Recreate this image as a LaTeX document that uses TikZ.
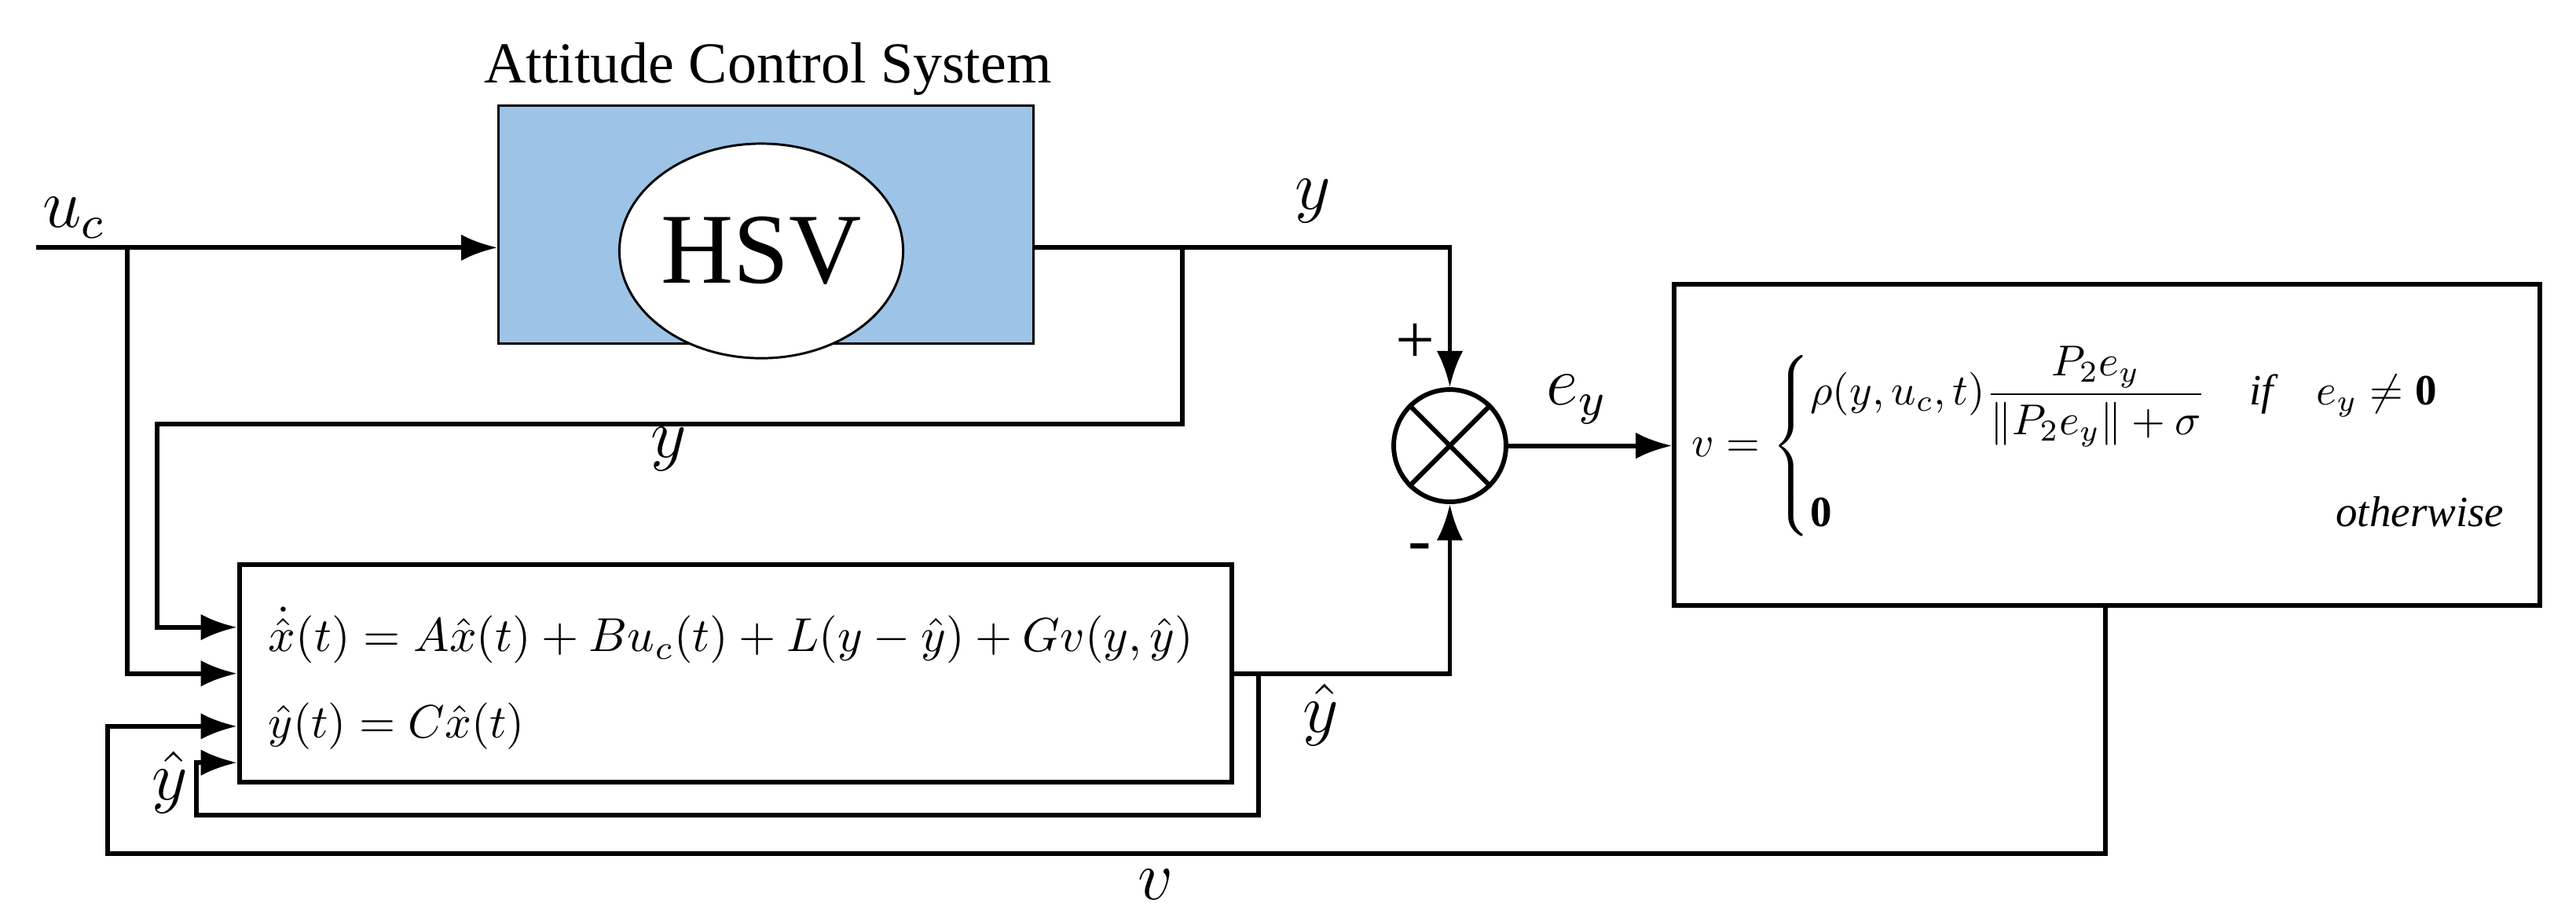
\documentclass[tikz,border=0pt]{standalone}
\usepackage{amsmath,amssymb}
\usepackage{fontspec}
\setmainfont{Liberation Serif}
\usetikzlibrary{arrows.meta,shapes.geometric}
\begin{document}
\begin{tikzpicture}
            [
                x=1cm, y=-1cm,
                line/.style = {thick},
                arr/.style = {thick, -{Latex[length=2.2mm, width=1.6mm]}},
                lbl/.style = {font=\large}
            ]
            \useasboundingbox (0,0) rectangle (15.6,5.56);
            % plant
            \node[draw, fill={rgb,255:red,157;green,195;blue,230}, minimum width=3.24cm, minimum height=1.44cm] (acs) at (4.64,1.36) {};
            \node[draw, fill=white, ellipse, inner sep=0pt, minimum width=1.6cm, minimum height=1.3cm, font=\LARGE] (hsv) at (4.61,1.52) {HSV};
            \node[font=\normalsize] (title) at (4.65,0.42) {Attitude Control System};
            % observer
            \node[draw, thick, minimum width=6.01cm, minimum height=1.32cm] (obs) at (4.455,4.08) {};
            \node[anchor=west, inner sep=0pt] (eq1) at (1.62,3.85) {\resizebox{5.6cm}{!}{$\dot{\hat{x}}(t)=A\hat{x}(t)+Bu_c(t)+L(y-\hat{y})+Gv(y,\hat{y})$}};
            \node[anchor=west, inner sep=0pt] (eq2) at (1.62,4.40) {\resizebox{1.55cm}{!}{$\hat{y}(t)=C\hat{x}(t)$}};
            % switching term
            \node[draw, thick, minimum width=5.24cm, minimum height=1.95cm] (sw) at (12.76,2.695) {};
            \node[inner sep=0pt] (law) at (12.72,2.70) {\resizebox{4.95cm}{!}{$v=\begin{cases}\rho(y,u_c,t)\dfrac{P_2e_y}{\lVert P_2e_y\rVert+\sigma} & \mathit{if}\quad e_y\neq\mathbf{0}\\[3ex] \mathbf{0} & \qquad\mathit{otherwise}\end{cases}$}};
            % summing junction
            \node[draw, thick, circle, minimum size=0.68cm] (sum) at (8.78,2.70) {};
            \draw[thick] (sum.45) -- (sum.225) (sum.135) -- (sum.315);
            % points
            \coordinate (uc) at (0.22,1.50);
            \coordinate (ucb) at (0.77,1.50);
            \coordinate (yb) at (7.16,1.50);
            \coordinate (yhb) at (7.62,4.08);
            \coordinate (vb) at (12.75,3.67);
            % connectors
            \draw[arr] (uc) -- (acs.west |- uc);
            \draw[arr] (ucb) |- (obs.west |- 0,4.08);
            \draw[arr] (acs.east |- yb) -| (sum.north);
            \draw[arr] (yb) |- (0.95,2.57) |- (obs.west |- 0,3.80);
            \draw[arr] (obs.east |- yhb) -| (sum.south);
            \draw[arr] (yhb) |- (1.19,4.94) |- (obs.west |- 0,4.62);
            \draw[arr] (sum.east) -- (sw.west |- sum);
            \draw[arr] (vb) |- (0.65,5.17) |- (obs.west |- 0,4.40);
            % labels
            \node[lbl] (luc) at (0.45,1.32) {$u_c$};
            \node[lbl] (ly1) at (7.95,1.22) {$y$};
            \node[lbl] (ly2) at (4.05,2.72) {$y$};
            \node[lbl] (ley) at (9.55,2.42) {$e_y$};
            \node[lbl] (lyh1) at (8.0,4.33) {$\hat{y}$};
            \node[lbl] (lyh2) at (1.03,4.74) {$\hat{y}$};
            \node[lbl] (lv) at (7.0,5.36) {$v$};
            \node[font=\large] (plus) at (8.57,2.08) {+};
            \node[font=\large] (minus) at (8.60,3.35) {-};
\end{tikzpicture}
\end{document}
